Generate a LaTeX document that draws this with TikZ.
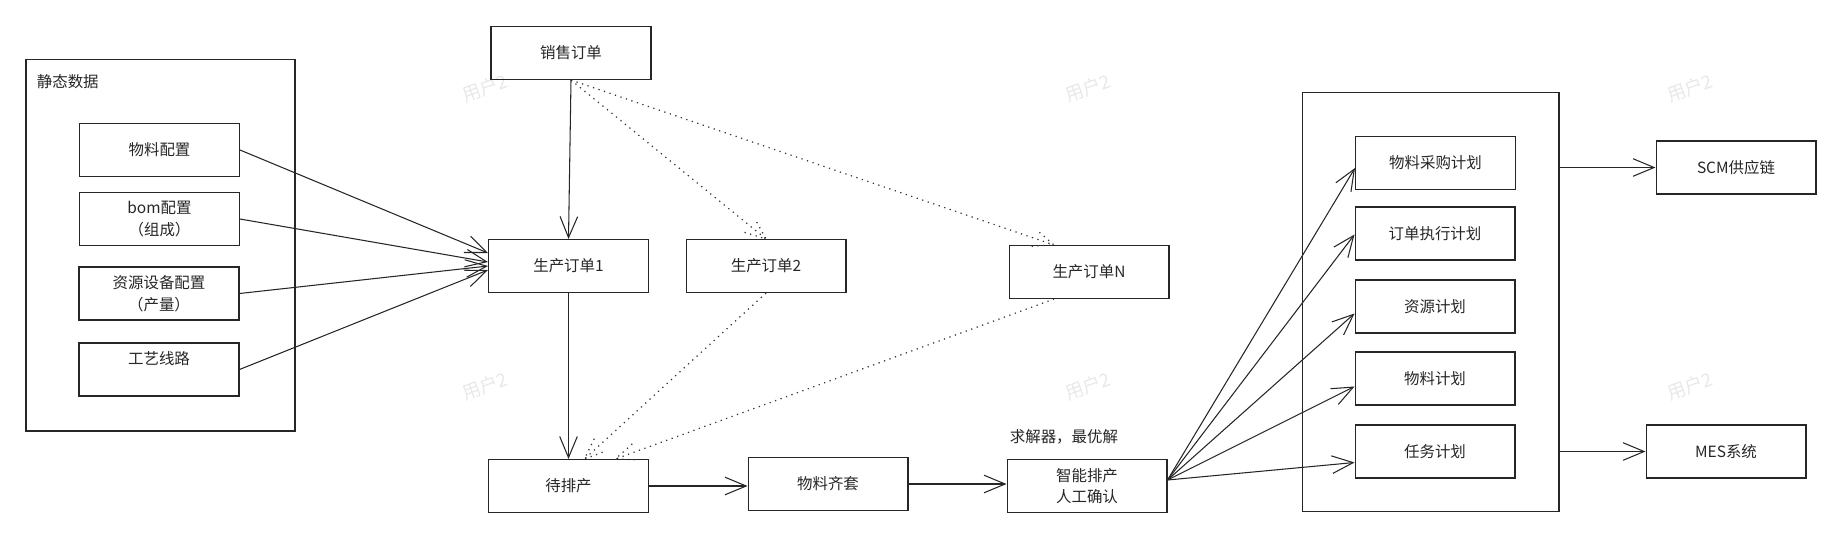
\documentclass[tikz,border=0pt]{standalone}
\usepackage{fontspec}
\setmainfont{Noto Sans CJK SC}
\usetikzlibrary{calc,arrows.meta}

\tikzset{
  box/.style={draw=black!85, line width=0.6pt, minimum width=3.2cm, minimum height=1.06cm, inner sep=0pt, align=center, font=\fontsize{8.8}{12.4}\selectfont, text=black!85},
  panel/.style={draw=black!85, line width=0.6pt, inner sep=0pt},
  arr/.style={draw=black!85, line width=0.6pt, -{Straight Barb[length=12pt,width=10pt]}},
  dots/.style={draw=black!80, line width=0.7pt, dash pattern=on 0.7pt off 2.6pt},
  lbl/.style={font=\fontsize{8.8}{12.4}\selectfont, text=black!85, inner sep=0pt},
  wmark/.style={font=\fontsize{10.5}{12}\selectfont, text=black!9, rotate=20, inner sep=0pt}
}
\newcommand{\dotarr}[2]{%
  \draw[dots] (#1) -- (#2);
  \draw[dots] ($(#2)!0.45cm!22:(#1)$) -- (#2) -- ($(#2)!0.45cm!-22:(#1)$);}

\begin{document}
\begin{tikzpicture}[x=0.02cm,y=-0.02cm]
    \useasboundingbox (0,0) rectangle (1834,535);

    % watermark
    \foreach \wx/\wy [count=\i] in {485/88,1088/88,1690/88,485/386,1088/386,1690/386}
        \node[wmark] (wm\i) at (\wx,\wy) {用户2};

    % static data
    \node[panel, minimum width=5.38cm, minimum height=7.44cm] (static) at (160.5,245) {};
    \node[lbl, anchor=west] (statlbl) at ($(static.north west)+(11,23)$) {静态数据};
    \node[box] (mat) at (159.5,150) {物料配置};
    \node[box] (bom) at (159.5,219) {bom配置\\（组成）};
    \node[box] (res) at (159,293.5) {资源设备配置\\（产量）};
    \node[box] (route) at (159,369.5) {工艺线路\\\phantom{（组成）}};

    % orders
    \node[box] (sales) at (571,53) {销售订单};
    \node[box] (p1) at (568.5,266) {生产订单1};
    \node[box] (p2) at (766,266) {生产订单2};
    \node[box] (pN) at (1089,272) {生产订单N};

    \node[box] (wait) at (568.5,486) {待排产};
    \node[box] (kit) at (828,484) {物料齐套};
    \node[box] (smart) at (1087,486) {智能排产\\人工确认};
    \node[lbl, anchor=west] (solver) at ($(smart.north west)+(3,-22)$) {求解器，最优解};

    % plans
    \node[panel, minimum width=5.14cm, minimum height=8.4cm] (plans) at (1430.5,302) {};
    \node[box] (buy) at (1435.5,163) {物料采购计划};
    \node[box] (exe) at (1435,233.5) {订单执行计划};
    \node[box] (resp) at (1435,306.5) {资源计划};
    \node[box] (matp) at (1435,378.5) {物料计划};
    \node[box] (task) at (1435,451.5) {任务计划};

    \node[box] (scm) at (1736,167.5) {SCM供应链};
    \node[box] (mes) at (1726,451.5) {MES系统};

    % arrows
    \foreach \s/\d in {mat/-13,bom/-4,res/0,route/4}
        \draw[arr] (\s.east) -- ($(p1.west)+(0,\d)$);

    \draw[arr] (sales.south) -- (p1.north);
    \draw[arr] (p1.south) -- (wait.north);

    \coordinate (nIn) at ($(pN.north)+(-35,0)$);
    \coordinate (wIn2) at ($(wait.north)+(16,0)$);
    \coordinate (wInN) at ($(wait.north)+(47,0)$);
    \coordinate (nOut) at ($(pN.south)+(-35,0)$);
    \dotarr{sales.south}{p2.north}
    \dotarr{sales.south}{nIn}
    \dotarr{p2.south}{wIn2}
    \dotarr{nOut}{wInN}

    \draw[arr] (wait.east) -- (wait.east -| kit.west);
    \draw[arr] (kit.east) -- (kit.east -| smart.west);

    \coordinate (sv) at ($(smart.east)+(0,-6)$);
    \foreach \t/\d in {buy/5,exe/1,resp/7,matp/8,task/11}
        \draw[arr] (sv) -- ($(\t.west)+(0,\d)$);

    \draw[arr] (plans.east |- scm.west) -- (scm.west);
    \draw[arr] (plans.east |- mes.west) -- (mes.west);

\end{tikzpicture}
\end{document}
